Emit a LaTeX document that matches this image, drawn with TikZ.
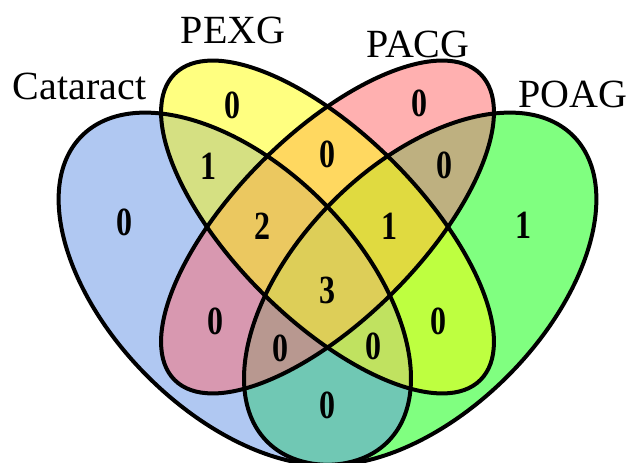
\documentclass[tikz,border=0pt]{standalone}
\usepackage{fontspec}
\setmainfont{Liberation Serif}
\definecolor{cA}{HTML}{B0C8F2}
\definecolor{cB}{HTML}{FFFF80}
\definecolor{cC}{HTML}{FFB0B0}
\definecolor{cD}{HTML}{80FF80}
\definecolor{cAB}{HTML}{D5E082}
\definecolor{cAC}{HTML}{D898B0}
\definecolor{cAD}{HTML}{70C8B4}
\definecolor{cBC}{HTML}{FFD860}
\definecolor{cBD}{HTML}{BEFF40}
\definecolor{cCD}{HTML}{BEB080}
\definecolor{cABC}{HTML}{EBC860}
\definecolor{cABD}{HTML}{C0E260}
\definecolor{cACD}{HTML}{B89890}
\definecolor{cBCD}{HTML}{E0DA40}
\definecolor{cABCD}{HTML}{DDCE58}
\newcommand\vnA[1]{\path[#1,rotate around={-45:(234.8,174.2)}] (234.8,174.2) ellipse [x radius=216.3, y radius=123.6];}
\newcommand\vnB[1]{\path[#1,rotate around={-45:(327.5,236)}] (327.5,236) ellipse [x radius=216.3, y radius=92.7];}
\newcommand\vnC[1]{\path[#1,rotate around={45:(327.5,236)}] (327.5,236) ellipse [x radius=216.3, y radius=92.7];}
\newcommand\vnD[1]{\path[#1,rotate around={45:(420.2,174.2)}] (420.2,174.2) ellipse [x radius=216.3, y radius=123.6];}
\begin{document}
\begin{tikzpicture}[x=1pt,y=1pt,
  lbl/.style={font=\fontsize{40}{40}\selectfont, anchor=base, inner sep=0pt},
  num/.style={font=\fontsize{40}{40}\selectfont\bfseries, xscale=0.8, inner sep=0pt},
  outline/.style={line width=4pt, draw=black}]
\useasboundingbox (0,0) rectangle (630,463);
\clip (0,0) rectangle (630,463);
% single sets
\vnA{fill=cA}
\vnB{fill=cB}
\vnC{fill=cC}
\vnD{fill=cD}
% pairs
\begin{scope}\vnA{clip}\vnB{fill=cAB}\end{scope}
\begin{scope}\vnA{clip}\vnC{fill=cAC}\end{scope}
\begin{scope}\vnA{clip}\vnD{fill=cAD}\end{scope}
\begin{scope}\vnB{clip}\vnC{fill=cBC}\end{scope}
\begin{scope}\vnB{clip}\vnD{fill=cBD}\end{scope}
\begin{scope}\vnC{clip}\vnD{fill=cCD}\end{scope}
% triples
\begin{scope}\vnA{clip}\vnB{clip}\vnC{fill=cABC}\end{scope}
\begin{scope}\vnA{clip}\vnB{clip}\vnD{fill=cABD}\end{scope}
\begin{scope}\vnA{clip}\vnC{clip}\vnD{fill=cACD}\end{scope}
\begin{scope}\vnB{clip}\vnC{clip}\vnD{fill=cBCD}\end{scope}
% all
\begin{scope}\vnA{clip}\vnB{clip}\vnC{clip}\vnD{fill=cABCD}\end{scope}
% outlines
\vnA{outline}
\vnB{outline}
\vnC{outline}
\vnD{outline}
% set labels
\node[lbl] (tA) at (79.5,363) {Cataract};
\node[lbl] (tB) at (233,419) {PEXG};
\node[lbl] (tC) at (418,405) {PACG};
\node[lbl] (tD) at (573,355) {POAG};
% counts
\node[num] (nA) at (124,241) {0};
\node[num] (nB) at (232,358) {0};
\node[num] (nC) at (419,360) {0};
\node[num] (nD) at (523,238) {1};
\node[num] (nAB) at (208,297) {1};
\node[num] (nBC) at (327,309) {0};
\node[num] (nCD) at (444,298) {0};
\node[num] (nABC) at (262,237) {2};
\node[num] (nBCD) at (389,237) {1};
\node[num] (nABCD) at (327,173) {3};
\node[num] (nAC) at (215,142) {0};
\node[num] (nBD) at (438,142) {0};
\node[num] (nACD) at (280,115) {0};
\node[num] (nABD) at (373,117) {0};
\node[num] (nAD) at (327,58) {0};
\end{tikzpicture}
\end{document}
